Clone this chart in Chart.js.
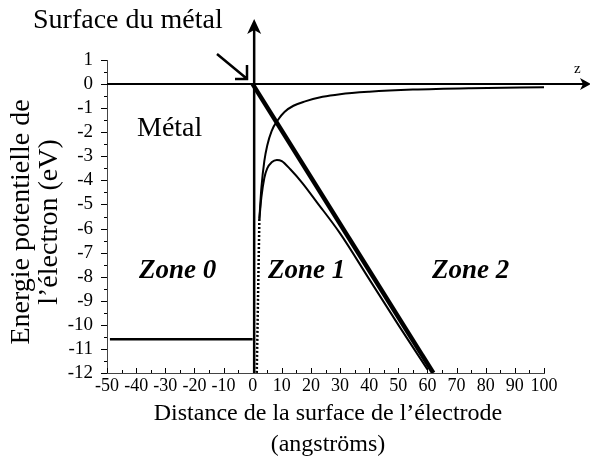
<!DOCTYPE html>
<html>
<head>
<meta charset="utf-8">
<script src="https://cdn.jsdelivr.net/npm/chart.js@4.4.1/dist/chart.umd.min.js"></script>
<style>
  html, body { margin: 0; padding: 0; background: #fff; }
  #wrap { width: 590px; height: 463px; position: relative; }
</style>
</head>
<body>
<div id="wrap"><canvas id="chart" width="590" height="463"></canvas></div>
<script>
// axes
const xMin = -50, xMax = 100, xStep = 10;
const yMin = -12, yMax = 1, yStep = 1;

// champ linéaire (trait épais)
const zField = [0, 62];
const vField = [0, -12];

// niveau du métal
const zMetal = [-49, 0];
const vMetal = [-10.6, -10.6];

// potentiel image
const zImage = [2.3, 3, 4, 5, 6.5, 8.6, 11, 14, 18, 24, 30, 40, 55, 75, 100];
const vImage = [-5.6, -4.3, -3.2, -2.55, -1.95, -1.5, -1.15, -0.9, -0.72, -0.53, -0.42, -0.32, -0.23, -0.17, -0.13];

// potentiel total (image + champ)
const zTotal = [2.3, 3, 4, 5, 6.5, 8.3, 10, 13, 17, 22, 30, 40, 50, 60];
const vTotal = [-5.6, -4.7, -3.9, -3.5, -3.25, -3.15, -3.2, -3.55, -4.1, -4.9, -6.2, -8.1, -10.0, -11.85];

// prolongement pointillé
const zDots = [2.3, 1.4];
const vDots = [-5.6, -12];

const toPts = (xs, ys) => xs.map((x, i) => ({ x: x, y: ys[i] }));
const serif = 'Liberation Serif, Times New Roman, serif';

// décor : graduations, axes fléchés, textes
const decor = {
    id: 'decor',
    afterDraw(chart) {
        const ctx = chart.ctx;
        const xs = chart.scales.x, ys = chart.scales.y;
        const a = chart.chartArea;
        ctx.save();
        ctx.strokeStyle = '#000';
        ctx.fillStyle = '#000';

        // graduations x (vers le haut)
        ctx.lineWidth = 1;
        for (let v = xMin; v <= xMax; v += 5) {
            const px = Math.round(xs.getPixelForValue(v)) + 0.5;
            const len = v % 10 === 0 ? 5 : 3;
            ctx.beginPath();
            ctx.moveTo(px, a.bottom);
            ctx.lineTo(px, a.bottom - len);
            ctx.stroke();
        }
        // graduations y (vers la gauche)
        for (let v = yMin; v <= yMax; v += 0.5) {
            const py = Math.round(ys.getPixelForValue(v)) + 0.5;
            const len = Number.isInteger(v) ? 6 : 3;
            ctx.beginPath();
            ctx.moveTo(a.left, py);
            ctx.lineTo(a.left - len, py);
            ctx.stroke();
        }

        // axe z (horizontal, y = 0)
        const y0 = ys.getPixelForValue(0);
        ctx.lineWidth = 2;
        ctx.beginPath();
        ctx.moveTo(a.left, y0);
        ctx.lineTo(584, y0);
        ctx.stroke();
        ctx.beginPath();
        ctx.moveTo(591, y0);
        ctx.lineTo(580, y0 - 6);
        ctx.lineTo(583, y0);
        ctx.lineTo(580, y0 + 6);
        ctx.closePath();
        ctx.fill();

        // axe vertical (surface, z = 0)
        const x0 = xs.getPixelForValue(0) + 1.5;
        ctx.lineWidth = 2.5;
        ctx.beginPath();
        ctx.moveTo(x0, a.bottom);
        ctx.lineTo(x0, 30);
        ctx.stroke();
        ctx.beginPath();
        ctx.moveTo(x0, 19);
        ctx.lineTo(x0 - 7, 34);
        ctx.lineTo(x0, 30);
        ctx.lineTo(x0 + 7, 34);
        ctx.closePath();
        ctx.fill();

        // flèche vers l'origine
        ctx.lineWidth = 2.5;
        ctx.beginPath();
        ctx.moveTo(217, 54);
        ctx.lineTo(246, 78);
        ctx.moveTo(247, 65);
        ctx.lineTo(247, 79);
        ctx.lineTo(235, 79);
        ctx.stroke();

        // textes
        ctx.textBaseline = 'alphabetic';
        ctx.textAlign = 'left';
        ctx.font = '28px ' + serif;
        ctx.fillText('Surface du métal', 33, 28);
        ctx.fillText('Métal', 137, 136);
        ctx.font = 'italic bold 27px ' + serif;
        ctx.fillText('Zone 0', 139, 278);
        ctx.fillText('Zone 1', 268, 278);
        ctx.fillText('Zone 2', 432, 278);
        ctx.font = '15px ' + serif;
        ctx.fillText('z', 574, 73);

        // titre axe x
        ctx.textAlign = 'center';
        ctx.textBaseline = 'middle';
        ctx.font = '24px ' + serif;
        ctx.fillText('Distance de la surface de l’électrode', 328, 414);
        ctx.fillText('(angströms)', 328, 445);

        // titre axe y
        ctx.font = '28px ' + serif;
        ctx.translate(0, 222);
        ctx.rotate(-Math.PI / 2);
        ctx.fillText('Energie potentielle de', 0, 22);
        ctx.fillText('l’électron (eV)', 0, 50);
        ctx.restore();
    }
};

new Chart(document.getElementById('chart'), {
    type: 'scatter',
    data: {
        datasets: [
            {
                data: toPts(zField, vField),
                showLine: true,
                borderColor: '#000',
                borderWidth: 4.5,
                pointRadius: 0
            },
            {
                data: toPts(zMetal, vMetal),
                showLine: true,
                borderColor: '#000',
                borderWidth: 2.5,
                pointRadius: 0
            },
            {
                data: toPts(zImage, vImage),
                showLine: true,
                borderColor: '#000',
                borderWidth: 2,
                pointRadius: 0,
                cubicInterpolationMode: 'monotone'
            },
            {
                data: toPts(zTotal, vTotal),
                showLine: true,
                borderColor: '#000',
                borderWidth: 2,
                pointRadius: 0,
                cubicInterpolationMode: 'monotone'
            },
            {
                data: toPts(zDots, vDots),
                showLine: true,
                borderColor: '#000',
                borderWidth: 2.5,
                borderDash: [2, 2],
                pointRadius: 0
            }
        ]
    },
    options: {
        responsive: false,
        animation: false,
        layout: { padding: { top: 60, right: 46, left: 0, bottom: 0 } },
        plugins: {
            legend: { display: false },
            tooltip: { enabled: false }
        },
        scales: {
            x: {
                type: 'linear',
                min: xMin,
                max: xMax,
                grid: { display: false, drawTicks: false },
                border: { display: true, color: '#444', width: 1 },
                ticks: {
                    stepSize: xStep,
                    autoSkip: false,
                    color: '#000',
                    padding: 2,
                    maxRotation: 0,
                    font: { family: serif, size: 18 }
                },
                afterFit: (s) => { s.height = 90; }
            },
            y: {
                type: 'linear',
                min: yMin,
                max: yMax,
                grid: { display: false },
                border: { display: true, color: '#444', width: 1 },
                ticks: {
                    stepSize: yStep,
                    autoSkip: false,
                    color: '#000',
                    padding: 6,
                    font: { family: serif, size: 19 }
                },
                afterFit: (s) => { s.width = 107; }
            }
        }
    },
    plugins: [decor]
});
</script>
</body>
</html>
